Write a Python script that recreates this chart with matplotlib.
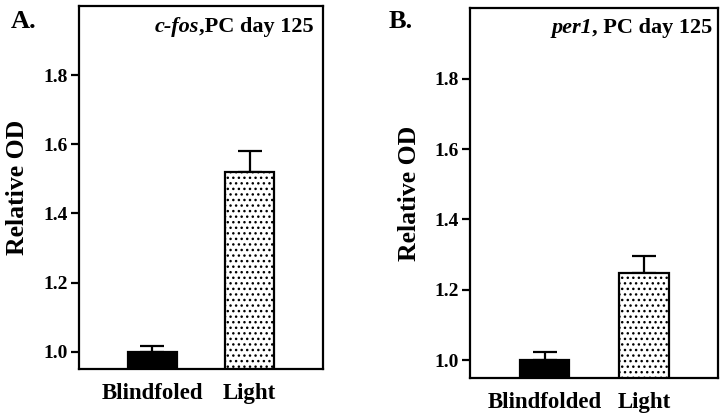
import matplotlib
matplotlib.use("Agg")
import matplotlib.pyplot as plt

plt.rcParams['font.family'] = ['Liberation Serif', 'DejaVu Serif']
plt.rcParams['font.weight'] = 'bold'
plt.rcParams['hatch.linewidth'] = 1.0

categories_a = ["Blindfoled", "Light"]
values_a = [1.0, 1.52]
errors_a = [0.018, 0.061]

categories_b = ["Blindfolded", "Light"]
values_b = [1.0, 1.247]
errors_b = [0.024, 0.05]

yticks = [1.0, 1.2, 1.4, 1.6, 1.8]
ytick_labels = ["1.0", "1.2", "1.4", "1.6", "1.8"]

fig = plt.figure(figsize=(7.26, 4.15), dpi=100)
axA = fig.add_axes([0.1088, 0.1108, 0.3361, 0.8747])
axB = fig.add_axes([0.6474, 0.0899, 0.3420, 0.8900])


def panel(ax, cats, vals, errs, italic, rest, tx, ty, letter, lx, ly):
    x = list(range(len(cats)))
    bars = ax.bar(x, [v - 0.95 for v in vals], bottom=0.95, width=0.5,
                  color=['black', 'white'], edgecolor='black', linewidth=1.6, zorder=3)
    bars[1].set_hatch('...')
    ax.errorbar(x, vals, yerr=[[0] * len(errs), errs], fmt='none', ecolor='black',
                elinewidth=1.6, capsize=8.5, capthick=1.6, zorder=2)
    ax.set_xlim(-0.75, 1.75)
    ax.set_ylim(0.95, 2.0)
    ax.set_xticks(x)
    ax.set_xticklabels(cats, fontsize=16.5, fontweight='bold')
    ax.tick_params(axis='x', length=0, pad=10)
    ax.set_yticks(yticks)
    ax.set_yticklabels(ytick_labels, fontsize=14, fontweight='bold')
    ax.tick_params(axis='y', direction='out', length=6, width=1.6, pad=2)
    for s in ax.spines.values():
        s.set_linewidth(1.6)
    ax.set_ylabel("Relative OD", fontsize=18.5, fontweight='bold', labelpad=10)
    t = ax.text(tx, ty, rest, transform=ax.transAxes, ha='right', va='center',
                fontsize=16, fontweight='bold')
    ax.annotate(italic, xy=(0, 0), xycoords=t, ha='right', va='bottom',
                fontsize=16, fontweight='bold', fontstyle='italic')
    fig.text(lx, ly, letter, fontsize=19, fontweight='bold', ha='left', va='baseline')


panel(axA, categories_a, values_a, errors_a, "c-fos", ",PC day 125", 0.96, 0.942,
      "A.", 11 / 726, 1 - 28 / 415)
panel(axB, categories_b, values_b, errors_b, "per1", ", PC day 125", 0.976, 0.948,
      "B.", 389 / 726, 1 - 28 / 415)

fig.savefig("out.png", dpi=100)
